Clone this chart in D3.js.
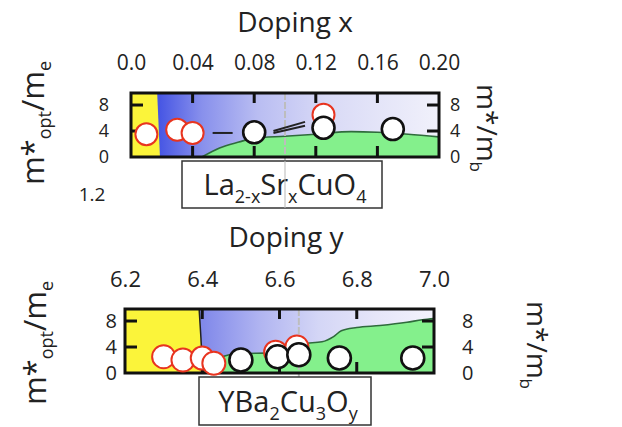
<!DOCTYPE html>
<html lang="en">
  <head>
    <meta charset="UTF-8" />
    <title>Effective mass vs doping</title>
    <script src="https://d3js.org/d3.v7.min.js"></script>
    <style>
      body {
        margin: 0;
        background: #fff;
        font-family: "Open Sans", sans-serif;
      }
      text {
        fill: #222;
      }
    </style>
  </head>
  <body>
    <svg width="622" height="427"></svg>

    <script>
      // --- LSCO panel data (doping x) ---
      const lscoTicks = [0.0, 0.04, 0.08, 0.12, 0.16, 0.2];
      const lscoInner = [0.04, 0.08, 0.12, 0.16];
      const lscoOptX = [0.01, 0.03, 0.04, 0.125];
      const lscoOptM = [3.5, 4.2, 3.7, 6.5];
      const lscoBandX = [0.08, 0.125, 0.17];
      const lscoBandM = [3.8, 4.5, 4.3];
      const lscoGreenX = [0.046, 0.0575, 0.07, 0.08, 0.1, 0.12, 0.143, 0.16, 0.18, 0.2];
      const lscoGreenM = [0, 1.4, 2.3, 2.9, 3.2, 3.5, 3.9, 3.8, 3.5, 3.1];
      const lscoYellowEdge = [0.017, 0.0188]; // top, bottom
      const lscoSegs = [
        [[0.053, 3.7], [0.066, 3.7]],
        [[0.0925, 4.0], [0.113, 5.4]],
        [[0.0925, 3.7], [0.113, 4.8]]
      ];
      const lscoMark = 0.1;

      // --- YBCO panel data (doping y) ---
      const ybcoTicks = [6.2, 6.4, 6.6, 6.8, 7.0];
      const ybcoInner = [6.4, 6.6, 6.8];
      const ybcoOptX = [6.3, 6.35, 6.4, 6.43, 6.59, 6.645];
      const ybcoOptM = [2.5, 2.0, 2.3, 1.5, 3.2, 4.0];
      const ybcoBandX = [6.5, 6.595, 6.65, 6.755, 6.945];
      const ybcoBandM = [2.0, 2.5, 2.8, 2.3, 2.3];
      const ybcoGreenX = [6.4, 6.43, 6.47, 6.5, 6.58, 6.62, 6.66, 6.71, 6.74, 6.76, 6.8, 6.86, 6.93, 6.97, 7.0];
      const ybcoGreenM = [0, 1.8, 2.8, 3.0, 3.1, 3.6, 4.5, 4.8, 5.6, 6.5, 7.0, 7.3, 7.8, 8.2, 8.4];
      const ybcoYellowEdge = [6.392, 6.402];
      const ybcoMark = 6.65;

      const mTicks = [0, 4, 8];
      const mInner = [4, 8];

      const svg = d3.select("svg");

      function drawPanel(cfg) {
        const x = d3.scaleLinear().domain(cfg.xDomain).range(cfg.xRange);
        const y = d3.scaleLinear().domain([0, 9.85]).range([cfg.bottom, cfg.top]);
        const g = svg.append("g");
        const left = cfg.xRange[0], right = cfg.xRange[1];

        // clip to the frame
        g.append("clipPath").attr("id", cfg.id + "-clip")
          .append("rect")
          .attr("x", left).attr("y", cfg.top)
          .attr("width", right - left).attr("height", cfg.bottom - cfg.top);

        // blue gradient background
        const grad = svg.append("defs").append("linearGradient")
          .attr("id", cfg.id + "-grad")
          .attr("gradientUnits", "userSpaceOnUse")
          .attr("x1", x(cfg.yellow[1])).attr("x2", right)
          .attr("y1", 0).attr("y2", 0);
        cfg.stops.forEach(s => grad.append("stop").attr("offset", s[0]).attr("stop-color", s[1]));

        const plot = g.append("g").attr("clip-path", `url(#${cfg.id}-clip)`);
        plot.append("rect")
          .attr("x", left).attr("y", cfg.top)
          .attr("width", right - left).attr("height", cfg.bottom - cfg.top)
          .attr("fill", `url(#${cfg.id}-grad)`);

        // yellow region
        plot.append("path")
          .attr("d", `M${left},${cfg.top}L${x(cfg.yellow[0])},${cfg.top}L${x(cfg.yellow[1])},${cfg.bottom}L${left},${cfg.bottom}Z`)
          .attr("fill", "#fbf43a");
        if (cfg.edgeLine) {
          plot.append("line")
            .attr("x1", x(cfg.yellow[0])).attr("y1", cfg.top)
            .attr("x2", x(cfg.yellow[1])).attr("y2", cfg.bottom)
            .attr("stroke", "#222").attr("stroke-width", 1.5);
        }

        // green area
        const pts = cfg.greenX.map((d, i) => [d, cfg.greenM[i]]);
        plot.append("path")
          .datum(pts)
          .attr("d", d3.area().curve(d3.curveMonotoneX)
            .x(d => x(d[0])).y0(y(0)).y1(d => y(d[1])))
          .attr("fill", "#84f08c");
        plot.append("path")
          .datum(pts)
          .attr("d", d3.line().curve(d3.curveMonotoneX)
            .x(d => x(d[0])).y(d => y(d[1])))
          .attr("fill", "none")
          .attr("stroke", "#2f6b3c")
          .attr("stroke-width", 1.6);

        // gray marker line
        g.append("line")
          .attr("x1", x(cfg.mark)).attr("x2", x(cfg.mark))
          .attr("y1", cfg.top).attr("y2", cfg.markEnd)
          .attr("stroke", "#bdbdbd").attr("stroke-width", 2)
          .attr("stroke-dasharray", "7,2");

        // inner ticks: top / bottom / left / right edges
        const tk = g.append("g").attr("stroke", "#111").attr("stroke-width", 3);
        tk.selectAll(null).data(cfg.inner).join("line")
          .attr("x1", d => x(d)).attr("x2", d => x(d))
          .attr("y1", cfg.top).attr("y2", cfg.top + 10);
        tk.selectAll(null).data(cfg.inner).join("line")
          .attr("x1", d => x(d)).attr("x2", d => x(d))
          .attr("y1", cfg.bottom).attr("y2", cfg.bottom - 11);
        tk.selectAll(null).data(mInner).join("line")
          .attr("x1", left).attr("x2", left + 12)
          .attr("y1", d => y(d)).attr("y2", d => y(d));
        tk.selectAll(null).data(mInner).join("line")
          .attr("x1", right).attr("x2", right - 12)
          .attr("y1", d => y(d)).attr("y2", d => y(d));

        // segments
        (cfg.segs || []).forEach(s => {
          g.append("line")
            .attr("x1", x(s[0][0])).attr("y1", y(s[0][1]))
            .attr("x2", x(s[1][0])).attr("y2", y(s[1][1]))
            .attr("stroke", "#222").attr("stroke-width", 2);
        });

        // frame
        g.append("rect")
          .attr("x", left).attr("y", cfg.top)
          .attr("width", right - left).attr("height", cfg.bottom - cfg.top)
          .attr("fill", "none").attr("stroke", "#111").attr("stroke-width", 3);

        // top axis labels
        const xa = g.append("g").attr("transform", `translate(0,${cfg.top})`)
          .call(d3.axisTop(x).tickValues(cfg.ticks).tickSize(0).tickPadding(cfg.top - cfg.tickBase)
            .tickFormat(cfg.fmt));
        xa.select(".domain").remove();
        xa.selectAll("text").attr("font-size", cfg.tickFont).attr("font-family", "Open Sans").attr("fill", "#222");

        // left / right m labels
        const la = g.append("g").attr("transform", `translate(${left},0)`)
          .call(d3.axisLeft(y).tickValues(mTicks).tickSize(0).tickPadding(cfg.padL));
        const ra = g.append("g").attr("transform", `translate(${right},0)`)
          .call(d3.axisRight(y).tickValues(mTicks).tickSize(0).tickPadding(cfg.padR));
        [la, ra].forEach(a => {
          a.select(".domain").remove();
          a.selectAll("text").attr("font-size", cfg.mFont).attr("font-family", "Open Sans").attr("fill", "#222");
        });

        // points: optical (red) then band (black)
        g.selectAll(null).data(cfg.optX).join("circle")
          .attr("cx", d => x(d)).attr("cy", (d, i) => y(cfg.optM[i]))
          .attr("r", cfg.r).attr("fill", "#fff")
          .attr("stroke", "#e8341f").attr("stroke-width", 2);
        g.selectAll(null).data(cfg.bandX).join("circle")
          .attr("cx", d => x(d)).attr("cy", (d, i) => y(cfg.bandM[i]))
          .attr("r", cfg.r).attr("fill", "#fff")
          .attr("stroke", "#111").attr("stroke-width", 2.6);

        // title
        svg.append("text")
          .attr("x", cfg.titleX).attr("y", cfg.titleY)
          .attr("text-anchor", "middle")
          .attr("font-size", cfg.titleFont)
          .text(cfg.title);

        // compound box
        svg.append("rect")
          .attr("x", cfg.box[0]).attr("y", cfg.box[1])
          .attr("width", cfg.box[2]).attr("height", cfg.box[3])
          .attr("fill", "#fff").attr("stroke", "#333").attr("stroke-width", 1.5);
        const t = svg.append("text")
          .attr("x", cfg.box[0] + cfg.box[2] / 2 + 3).attr("y", cfg.box[1] + cfg.box[3] - 13)
          .attr("text-anchor", "middle").attr("font-size", 29);
        let shift = 0;
        cfg.formula.forEach(p => {
          const target = p[1] ? 8 : 0;
          const ts = t.append("tspan").attr("dy", target - shift).text(p[0]);
          if (p[1]) ts.attr("font-size", 18);
          shift = target;
        });
        // gray marker over the box
        if (cfg.markOverBox) {
          svg.append("line")
            .attr("x1", x(cfg.mark)).attr("x2", x(cfg.mark))
            .attr("y1", cfg.box[1]).attr("y2", cfg.box[1] + cfg.box[3])
            .attr("stroke", "#bdbdbd").attr("stroke-width", 1.5).attr("opacity", 0.7);
        }

        // y-axis titles
        const lt = svg.append("text")
          .attr("transform", `translate(${cfg.leftTitle[0]},${cfg.leftTitle[1]}) rotate(-90)`)
          .attr("text-anchor", "middle").attr("font-size", 31);
        lt.append("tspan").text("m*");
        lt.append("tspan").attr("font-size", 18).attr("dy", 7).text("opt");
        lt.append("tspan").attr("dy", -7).text("/m");
        lt.append("tspan").attr("font-size", 18).attr("dy", 7).text("e");

        const rt = svg.append("text")
          .attr("transform", `translate(${cfg.rightTitle[0]},${cfg.rightTitle[1]}) rotate(90)`)
          .attr("text-anchor", "middle").attr("font-size", 28);
        rt.append("tspan").text("m*/m");
        rt.append("tspan").attr("font-size", 17).attr("dy", 7).text("b");
        return { x, y };
      }

      drawPanel({
        id: "lsco",
        xDomain: [0, 0.2], xRange: [131, 439],
        top: 93, bottom: 157,
        ticks: lscoTicks, inner: lscoInner, fmt: d => d === 0 ? "0.0" : d3.format(".2f")(d),
        tickBase: 70, tickFont: 21, mFont: 18, padL: 22, padR: 11,
        optX: lscoOptX, optM: lscoOptM, bandX: lscoBandX, bandM: lscoBandM,
        greenX: lscoGreenX, greenM: lscoGreenM,
        yellow: lscoYellowEdge, edgeLine: false,
        stops: [[0, "#4857e4"], [0.15, "#8890ec"], [0.35, "#b9bdf2"], [0.6, "#d9daf6"], [1, "#f1f1fb"]],
        segs: lscoSegs,
        mark: lscoMark, markEnd: 160, markOverBox: true,
        r: 11,
        title: "Doping x", titleX: 295, titleY: 32, titleFont: 28,
        box: [182, 161, 200, 47],
        formula: [["La"], ["2-x", 1], ["Sr"], ["x", 1], ["CuO"], ["4", 1]],
        leftTitle: [44, 123], rightTitle: [477, 128]
      });

      drawPanel({
        id: "ybco",
        xDomain: [6.2, 7.0], xRange: [125, 434],
        top: 309, bottom: 373,
        ticks: ybcoTicks, inner: ybcoInner, fmt: d3.format(".1f"),
        tickBase: 287, tickFont: 22, mFont: 20, padL: 8, padR: 28,
        optX: ybcoOptX, optM: ybcoOptM, bandX: ybcoBandX, bandM: ybcoBandM,
        greenX: ybcoGreenX, greenM: ybcoGreenM,
        yellow: ybcoYellowEdge, edgeLine: true,
        stops: [[0, "#8189ea"], [0.25, "#b1b5f1"], [0.5, "#d4d6f6"], [0.75, "#e6e6f9"], [1, "#f3f3fc"]],
        segs: [],
        mark: ybcoMark, markEnd: 377, markOverBox: false,
        r: 11.5,
        title: "Doping y", titleX: 286, titleY: 247, titleFont: 28,
        box: [199, 377, 172, 48],
        formula: [["YBa"], ["2", 1], ["Cu"], ["3", 1], ["O"], ["y", 1]],
        leftTitle: [46, 343], rightTitle: [527, 345]
      });

      // stray axis label from the figure
      svg.append("text")
        .attr("x", 92).attr("y", 201)
        .attr("text-anchor", "middle")
        .attr("font-size", 19)
        .text("1.2");
    </script>
  </body>
</html>
